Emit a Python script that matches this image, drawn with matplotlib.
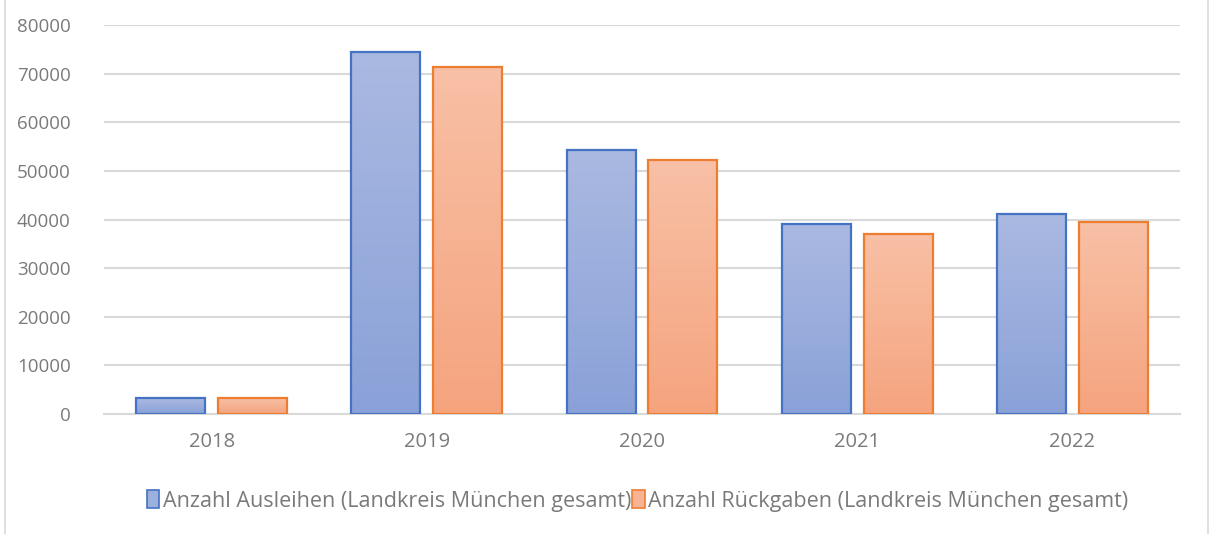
import matplotlib
matplotlib.use("Agg")
import matplotlib.pyplot as plt
import numpy as np
from matplotlib.patches import Patch
from matplotlib.colors import LinearSegmentedColormap

# ================= DATA =================
years = ["2018", "2019", "2020", "2021", "2022"]
ausleihen = [3250, 74350, 54300, 39100, 41200]
rueckgaben = [3200, 71450, 52250, 37050, 39500]
labels = ["Anzahl Ausleihen (Landkreis München gesamt)",
          "Anzahl Rückgaben (Landkreis München gesamt)"]

# ================= STYLE =================
plt.rcParams['font.family'] = ['Open Sans', 'DejaVu Sans']
grey_text = "#7a7a7a"
blue_edge, orange_edge = "#4472c4", "#ed7d31"
blue_cmap = LinearSegmentedColormap.from_list("b", ["#8aa1d8", "#aab9e1"])
orange_cmap = LinearSegmentedColormap.from_list("o", ["#f5a47e", "#f8c0a6"])

fig = plt.figure(figsize=(12.12, 5.34), dpi=100)
ax = fig.add_axes([0.0858, 0.2247, 0.8878, 0.7285])

x = np.arange(len(years))
width = 0.32
offset = 0.19


def gradient_bars(xs, vals, cmap, edge):
    bars = ax.bar(xs, vals, width, facecolor="none", edgecolor=edge,
                  linewidth=1.6, zorder=3)
    grad = np.linspace(0, 1, 256).reshape(-1, 1)
    # each bar gets its own light-top / dark-bottom gradient
    for b in bars:
        x0 = b.get_x()
        im = ax.imshow(grad, cmap=cmap, aspect="auto", origin="lower",
                       extent=[x0, x0 + b.get_width(), 0, b.get_height()],
                       zorder=2)
        im.set_clip_path(b)
    return bars


gradient_bars(x - offset, ausleihen, blue_cmap, blue_edge)
gradient_bars(x + offset, rueckgaben, orange_cmap, orange_edge)

ax.set_xlim(-0.5, len(years) - 0.5)
ax.set_ylim(0, 80000)
ax.set_yticks(range(0, 80001, 10000))
ax.set_xticks(x)
ax.set_xticklabels(years)
ax.grid(axis="y", color="#d9d9d9", linewidth=1.5, zorder=0)
ax.set_axisbelow(True)
for s in ["top", "right", "left"]:
    ax.spines[s].set_visible(False)
ax.spines["bottom"].set_color("#d9d9d9")
ax.spines["bottom"].set_linewidth(1.5)
ax.tick_params(axis="both", length=0, colors=grey_text)
ax.tick_params(axis="y", pad=24, labelsize=13.5)
ax.tick_params(axis="x", pad=13, labelsize=14.5)

# Legend
handles = [Patch(facecolor="#9cb0de", edgecolor=blue_edge, linewidth=1.2),
           Patch(facecolor="#f7b394", edgecolor=orange_edge, linewidth=1.2)]
fig.legend(handles, labels, loc="center", bbox_to_anchor=(0.526, 0.062),
           ncol=2, frameon=False, fontsize=15.5, labelcolor=grey_text,
           handlelength=0.6, handleheight=0.9, handletextpad=0.15,
           columnspacing=0.05)

# Chart area frame (left / right edges visible)
fig.add_artist(plt.Line2D([0.004, 0.004], [0, 1], color="#d9d9d9", lw=1.2))
fig.add_artist(plt.Line2D([0.9965, 0.9965], [0, 1], color="#d9d9d9", lw=1.2))

fig.savefig("out.png", dpi=100)
